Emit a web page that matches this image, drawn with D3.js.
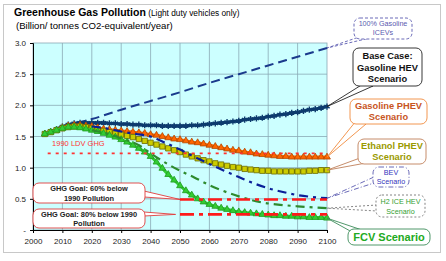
<!DOCTYPE html>
<html>
<head>
<meta charset="utf-8">
<script src="https://cdn.jsdelivr.net/npm/d3@7"></script>
<style>
  body { margin: 0; background: #fff; }
  svg { display: block; font-family: "Liberation Sans", Arial, sans-serif; }
</style>
</head>
<body>
<div id="view"></div>
<script>
// yearly grid for the marker series (every 2 years)
var years = d3.range(2004, 2101, 2);

var baseHEV = [1.55, 1.58, 1.62, 1.66, 1.69, 1.71, 1.72, 1.72, 1.72, 1.72, 1.72, 1.71, 1.71,
    1.70, 1.70, 1.69, 1.69, 1.68, 1.68, 1.68, 1.67, 1.67, 1.67, 1.67, 1.67, 1.68, 1.68, 1.69,
    1.70, 1.71, 1.72, 1.73, 1.74, 1.75, 1.77, 1.78, 1.79, 1.80, 1.82, 1.83, 1.85, 1.86, 1.88,
    1.89, 1.91, 1.93, 1.94, 1.96, 1.98];
var gasPHEV = [1.54, 1.57, 1.60, 1.64, 1.67, 1.68, 1.68, 1.67, 1.66, 1.64, 1.62, 1.61, 1.60,
    1.59, 1.58, 1.57, 1.56, 1.55, 1.53, 1.52, 1.50, 1.48, 1.46, 1.45, 1.43, 1.41, 1.40, 1.38,
    1.36, 1.34, 1.32, 1.30, 1.28, 1.27, 1.25, 1.24, 1.22, 1.21, 1.20, 1.19, 1.18, 1.18, 1.17,
    1.17, 1.17, 1.17, 1.17, 1.17, 1.17];
var ethPHEV = [1.54, 1.57, 1.60, 1.63, 1.65, 1.66, 1.66, 1.65, 1.63, 1.61, 1.59, 1.57, 1.55,
    1.53, 1.51, 1.49, 1.46, 1.43, 1.40, 1.37, 1.34, 1.31, 1.28, 1.25, 1.21, 1.18, 1.15, 1.12,
    1.10, 1.07, 1.05, 1.03, 1.01, 1.00, 0.98, 0.97, 0.96, 0.95, 0.95, 0.94, 0.94, 0.94, 0.94,
    0.94, 0.94, 0.95, 0.95, 0.96, 0.96];
var fcv = [1.54, 1.57, 1.60, 1.63, 1.65, 1.65, 1.64, 1.62, 1.60, 1.58, 1.55, 1.52, 1.49,
    1.45, 1.41, 1.36, 1.31, 1.25, 1.18, 1.09, 0.99, 0.89, 0.80, 0.71, 0.63, 0.56, 0.50, 0.45,
    0.41, 0.38, 0.35, 0.33, 0.31, 0.29, 0.28, 0.27, 0.26, 0.25, 0.24, 0.23, 0.23, 0.22, 0.22,
    0.21, 0.21, 0.20, 0.20, 0.20, 0.19];

// line-only series
var icevYears = [2015, 2020, 2030, 2040, 2050, 2060, 2070, 2080, 2090, 2100];
var icev = [1.72, 1.78, 1.93, 2.07, 2.21, 2.36, 2.50, 2.64, 2.78, 2.92];
var bevYears = [2020, 2025, 2030, 2035, 2040, 2045, 2050, 2055, 2060, 2065, 2070, 2075, 2080, 2085, 2090, 2095, 2100];
var bev = [1.66, 1.63, 1.58, 1.54, 1.50, 1.40, 1.29, 1.17, 1.06, 0.95, 0.85, 0.75, 0.67, 0.61, 0.56, 0.53, 0.51];
var h2Years = [2020, 2025, 2030, 2036, 2040, 2045, 2050, 2055, 2060, 2064, 2070, 2077, 2085, 2090, 2100];
var h2ice = [1.60, 1.55, 1.47, 1.36, 1.23, 1.08, 0.95, 0.84, 0.72, 0.64, 0.54, 0.45, 0.40, 0.38, 0.35];

// reference levels
var ghg1990 = 1.23, goal60 = 0.49, goal80 = 0.25;
var xTicks = d3.range(2000, 2101, 10);
var yTicks = [0, 0.5, 1.0, 1.5, 2.0, 2.5, 3.0];

var W = 446, H = 261;
var plot = {left: 33, top: 43, right: 327, bottom: 230};

var x = d3.scaleLinear().domain([2000, 2100]).range([plot.left, plot.right]);
var y = d3.scaleLinear().domain([0, 3]).range([plot.bottom, plot.top]);

var svg = d3.select("#view").append("svg").attr("width", W).attr("height", H);

svg.append("rect").attr("x", 3.5).attr("y", 4.5).attr("width", 437).attr("height", 248)
    .attr("fill", "#fff").attr("stroke", "#c8c8c8");

// title
var t = svg.append("text").attr("x", 14).attr("y", 16).attr("fill", "#000");
t.append("tspan").attr("font-weight", "bold").attr("font-size", 10.5).text("Greenhouse Gas Pollution");
t.append("tspan").attr("font-size", 8.3).text(" (Light duty vehicles only)");
svg.append("text").attr("x", 16).attr("y", 29).attr("font-size", 9.6)
    .text("(Billion/ tonnes CO2-equivalent/year)");

// plot background + grid
svg.append("rect").attr("x", plot.left).attr("y", plot.top)
    .attr("width", plot.right - plot.left).attr("height", plot.bottom - plot.top)
    .attr("fill", "#ccffff").attr("stroke", "#8aa9b5").attr("stroke-width", 0.8);
svg.append("g").selectAll("line").data(xTicks.slice(1, -1)).enter().append("line")
    .attr("x1", d => x(d)).attr("x2", d => x(d))
    .attr("y1", plot.top).attr("y2", plot.bottom)
    .attr("stroke", "#8aa9b5").attr("stroke-width", 0.8);
svg.append("g").selectAll("line").data(yTicks.slice(1, -1)).enter().append("line")
    .attr("y1", d => y(d)).attr("y2", d => y(d))
    .attr("x1", plot.left).attr("x2", plot.right)
    .attr("stroke", "#8aa9b5").attr("stroke-width", 0.8);

// axes
var xAxis = svg.append("g").attr("transform", `translate(0, ${plot.bottom})`)
    .call(d3.axisBottom(x).tickValues(xTicks).tickFormat(d3.format("d")).tickSizeOuter(0).tickSize(3).tickPadding(5));
var yAxis = svg.append("g").attr("transform", `translate(${plot.left}, 0)`)
    .call(d3.axisLeft(y).tickValues(yTicks).tickFormat(d => d === 0 ? "-" : d3.format(".1f")(d)).tickSizeOuter(0).tickSize(3).tickPadding(4));
[xAxis, yAxis].forEach(a => {
    a.selectAll("text").attr("font-size", 8).attr("fill", "#222").attr("font-family", "Liberation Sans, Arial, sans-serif");
    a.select(".domain").attr("stroke", "#000");
    a.selectAll(".tick line").attr("stroke", "#000");
});

var line = d3.line().x(d => x(d[0])).y(d => y(d[1])).curve(d3.curveMonotoneX);
var zip = (xs, ys) => xs.map((v, i) => [v, ys[i]]);

// 100% ICEV dashed
svg.append("path").attr("d", line(zip(icevYears, icev))).attr("fill", "none")
    .attr("stroke", "#1a3a8c").attr("stroke-width", 2).attr("stroke-dasharray", "9,5");

// marker series
var markerSeries = [
    {values: gasPHEV, type: d3.symbolTriangle, size: 20, fill: "#ff6600", stroke: "#b34700", line: "#ff6600"},
    {values: ethPHEV, type: d3.symbolSquare, size: 28, fill: "#cccc00", stroke: "#6b6b00", line: "#999900"},
    {values: fcv, type: d3.symbolTriangle, size: 20, fill: "#33cc33", stroke: "#1f9a1f", line: "#33cc33"},
];
var baseSeries = {values: baseHEV, color: "#0d3b6e"};

function drawMarkers(s) {
    var pts = zip(years, s.values);
    svg.append("path").attr("d", line(pts)).attr("fill", "none").attr("stroke", s.line).attr("stroke-width", 3);
    svg.append("g").selectAll("path").data(pts).enter().append("path")
        .attr("transform", d => `translate(${x(d[0])}, ${y(d[1])})`)
        .attr("d", d3.symbol().type(s.type).size(s.size))
        .attr("fill", s.fill).attr("stroke", s.stroke).attr("stroke-width", 0.8);
}

// base case: asterisk band
(function() {
    var pts = zip(years, baseSeries.values);
    svg.append("path").attr("d", line(pts)).attr("fill", "none").attr("stroke", baseSeries.color).attr("stroke-width", 3);
    svg.append("g").selectAll("path").data(pts).enter().append("path")
        .attr("transform", d => `translate(${x(d[0])}, ${y(d[1])})`)
        .attr("d", d3.symbol().type(d3.symbolAsterisk).size(26))
        .attr("fill", "none").attr("stroke", baseSeries.color).attr("stroke-width", 1.4);
})();
markerSeries.forEach(drawMarkers);

// BEV and H2 ICE HEV dash-dot lines
svg.append("path").attr("d", line(zip(bevYears, bev))).attr("fill", "none")
    .attr("stroke", "#0a1f99").attr("stroke-width", 2.2).attr("stroke-dasharray", "9,5,3,5");
svg.append("path").attr("d", line(zip(h2Years, h2ice))).attr("fill", "none")
    .attr("stroke", "#2e8b2e").attr("stroke-width", 2.2).attr("stroke-dasharray", "9,5,3,5");

// 1990 level and goals
svg.append("line").attr("x1", x(2005)).attr("x2", x(2100)).attr("y1", y(ghg1990)).attr("y2", y(ghg1990))
    .attr("stroke", "#ff3333").attr("stroke-width", 1.8).attr("stroke-dasharray", "3,5");
svg.append("text").attr("x", x(2006.5)).attr("y", y(ghg1990) - 7).attr("font-size", 7.5)
    .attr("fill", "#ff3333").text("1990 LDV GHG");
[goal60, goal80].forEach(g => {
    svg.append("line").attr("x1", x(2050)).attr("x2", x(2100)).attr("y1", y(g)).attr("y2", y(g))
        .attr("stroke", "#ff1a1a").attr("stroke-width", 2.6).attr("stroke-dasharray", "14,5,4,5");
});

// callouts
function callout(o) {
    var g = svg.append("g");
    g.append("path")
        .attr("d", `M${o.base[0][0]},${o.base[0][1]}L${o.tip[0]},${o.tip[1]}L${o.base[1][0]},${o.base[1][1]}Z`)
        .attr("fill", "#fff").attr("stroke", o.stroke).attr("stroke-width", o.sw || 0.9)
        .attr("stroke-dasharray", o.dash || null);
    g.append("rect").attr("x", o.box[0]).attr("y", o.box[1]).attr("width", o.box[2]).attr("height", o.box[3])
        .attr("rx", 6).attr("fill", "#fff").attr("stroke", o.stroke).attr("stroke-width", o.sw || 0.9)
        .attr("stroke-dasharray", o.dash || null);
    var cx = o.box[0] + o.box[2] / 2;
    o.lines.forEach((l, i) => {
        g.append("text").attr("x", cx).attr("y", o.y0 + i * o.lh).attr("text-anchor", "middle")
            .attr("font-size", o.fs).attr("font-weight", o.bold ? "bold" : "normal")
            .attr("fill", o.color).text(l);
    });
}

callout({box: [354, 18, 58, 21], base: [[362, 36], [370, 38]], tip: [x(2100), y(icev[icev.length - 1])],
    stroke: "#5a5ab0", dash: "3,2", lines: ["100% Gasoline", "ICEVs"], y0: 26, lh: 9, fs: 7.2, color: "#5a5ab0"});
callout({box: [353, 48, 69, 38], base: [[363, 84], [373, 86]], tip: [x(2100), y(baseHEV[baseHEV.length - 1])],
    stroke: "#222", lines: ["Base Case:", "Gasoline HEV", "Scenario"], y0: 59, lh: 11.5, fs: 9.3, bold: true, color: "#111"});
callout({box: [350, 99, 77, 25], base: [[356, 121], [366, 124]], tip: [x(2100), y(gasPHEV[gasPHEV.length - 1])],
    stroke: "#f08a3c", lines: ["Gasoline PHEV", "Scenario"], y0: 109, lh: 11, fs: 9.3, bold: true, color: "#c8551e"});
callout({box: [358, 139, 68, 25], base: [[360, 158], [366, 163]], tip: [x(2100), y(ethPHEV[ethPHEV.length - 1])],
    stroke: "#c0805a", lines: ["Ethanol PHEV", "Scenario"], y0: 149, lh: 11, fs: 9.3, bold: true, color: "#9a9a00"});
callout({box: [373, 167, 36, 20], base: [[374, 177], [374, 183]], tip: [x(2100), y(bev[bev.length - 1])],
    stroke: "#5a5ab0", dash: "5,2,1,2", lines: ["BEV", "Scenario"], y0: 175, lh: 9, fs: 7.2, color: "#3333bb"});
callout({box: [376, 195, 49, 22], base: [[377, 205], [377, 211]], tip: [x(2100), y(h2ice[h2ice.length - 1])],
    stroke: "#777", dash: "2,2", lines: ["H2 ICE HEV", "Scenario"], y0: 204, lh: 9.5, fs: 7.2, color: "#33a033"});
callout({box: [348, 229, 82, 16], base: [[352, 232], [362, 230]], tip: [x(2100), y(fcv[fcv.length - 1])],
    stroke: "#3c8c5a", lines: ["FCV Scenario"], y0: 241, lh: 0, fs: 11, bold: true, color: "#22aa22"});
callout({box: [33, 183, 112, 20], base: [[144, 191], [144, 197]], tip: [x(2050), y(goal60)],
    stroke: "#e03c3c", lines: ["GHG Goal: 60% below", "1990 Pollution"], y0: 191, lh: 9.5, fs: 7.4, bold: true, color: "#222"});
callout({box: [33, 209, 112, 19], base: [[144, 212], [144, 216]], tip: [x(2048.5), y(goal80)],
    stroke: "#e03c3c", lines: ["GHG Goal: 80% below 1990", "Pollution"], y0: 217, lh: 9.2, fs: 7.4, bold: true, color: "#222"});
</script>
</body>
</html>
